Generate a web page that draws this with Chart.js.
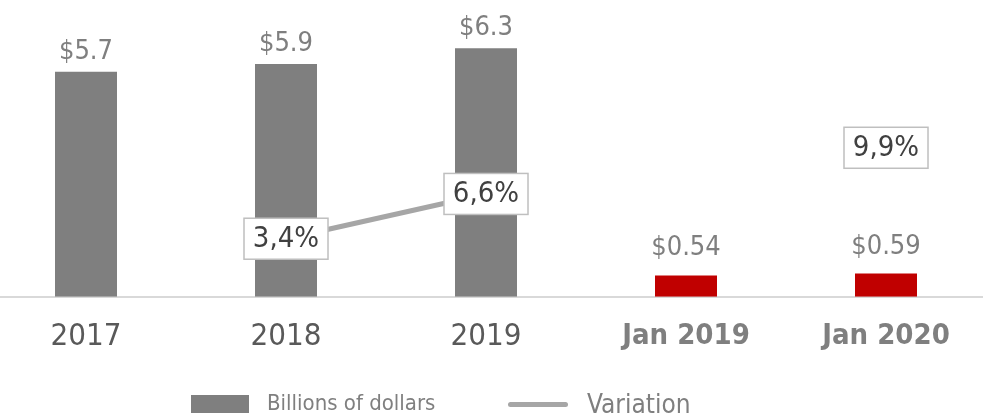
<!DOCTYPE html>
<html>
<head>
<meta charset="utf-8">
<script src="https://cdn.jsdelivr.net/npm/chart.js@4.4.1/dist/chart.umd.min.js"></script>
<style>
  body { margin: 0; background: #fff; }
  #page { position: relative; width: 983px; height: 419px; overflow: hidden; }
  #wrap { position: absolute; left: -14px; top: 0; width: 1000px; height: 419px; }
  .legend { position: absolute; font-family: "Liberation Sans Narrow", "DejaVu Sans Condensed", sans-serif; color: #7f7f7f; white-space: nowrap; }
</style>
</head>
<body>
<div id="page">
  <div id="wrap"><canvas id="mainChart"></canvas></div>
  <div class="legend" style="left:191px;top:395px;width:58px;height:18px;background:#7f7f7f"></div>
  <div class="legend" style="left:267px;top:390px;font-size:22px;line-height:26px">Billions of dollars</div>
  <div class="legend" style="left:508px;top:402px;width:60px;height:5px;border-radius:3px;background:#a6a6a6"></div>
  <div class="legend" style="left:587px;top:389px;font-size:26px;line-height:30px">Variation</div>
</div>
<script>
const FONT = '"Liberation Sans Narrow", "DejaVu Sans Condensed", sans-serif';

const categories = ["2017", "2018", "2019", "Jan 2019", "Jan 2020"];
const billions = [5.7, 5.9, 6.3, 0.54, 0.59];
const variation = [null, 3.4, 6.6, null, 9.9];
const barColors = ["#7f7f7f", "#7f7f7f", "#7f7f7f", "#c00000", "#c00000"];

// value labels: "$x" over bars, boxed "x,x%" on the line
const valueLabels = {
  id: 'valueLabels',
  afterDatasetsDraw(chart) {
    const ctx = chart.ctx;
    ctx.save();
    chart.data.datasets.forEach((ds, di) => {
      const meta = chart.getDatasetMeta(di);
      meta.data.forEach((el, i) => {
        const v = ds.data[i];
        if (v === null || v === undefined) return;
        if (ds.type === 'line') {
          const txt = v.toFixed(1).replace('.', ',') + '%';
          const w = 84, h = 41;
          ctx.fillStyle = '#ffffff';
          ctx.strokeStyle = '#bfbfbf';
          ctx.lineWidth = 1.5;
          ctx.fillRect(el.x - w / 2, el.y - h / 2, w, h);
          ctx.strokeRect(el.x - w / 2, el.y - h / 2, w, h);
          ctx.fillStyle = '#404040';
          ctx.font = '29px ' + FONT;
          ctx.textAlign = 'center';
          ctx.textBaseline = 'middle';
          ctx.fillText(txt, el.x, el.y + 1);
        } else {
          ctx.fillStyle = '#7f7f7f';
          ctx.font = '27px ' + FONT;
          ctx.textAlign = 'center';
          ctx.textBaseline = 'alphabetic';
          ctx.fillText('$' + v, el.x, el.y - (v < 1 ? 20 : 13));
        }
      });
    });
    ctx.restore();
  }
};

new Chart(document.getElementById('mainChart').getContext('2d'), {
  data: {
    labels: categories,
    datasets: [
      {
        type: 'line',
        label: 'Variation',
        data: variation,
        yAxisID: 'y1',
        borderColor: '#a6a6a6',
        borderWidth: 5,
        pointRadius: 0,
        spanGaps: false,
        order: 0
      },
      {
        type: 'bar',
        label: 'Billions of dollars',
        data: billions,
        yAxisID: 'y',
        backgroundColor: barColors,
        barPercentage: 0.31,
        categoryPercentage: 1,
        order: 1
      }
    ]
  },
  options: {
    responsive: true,
    maintainAspectRatio: false,
    animation: false,
    layout: { padding: { top: 0, left: 0, right: 0, bottom: 41 } },
    plugins: {
      legend: { display: false },
      tooltip: { enabled: false }
    },
    scales: {
      x: {
        grid: { display: false, drawTicks: false },
        border: { display: true, color: '#d9d9d9', width: 2 },
        ticks: {
          padding: 22,
          color: c => c.index >= 3 ? '#7f7f7f' : '#595959',
          font: c => ({ family: FONT, size: c.index >= 3 ? 29 : 31, weight: c.index >= 3 ? 'bold' : 'normal' })
        }
      },
      y: { display: false, min: 0, max: 7.52 },
      y1: { display: false, min: -0.75, max: 20.46 }
    }
  },
  plugins: [valueLabels]
});
</script>
</body>
</html>
